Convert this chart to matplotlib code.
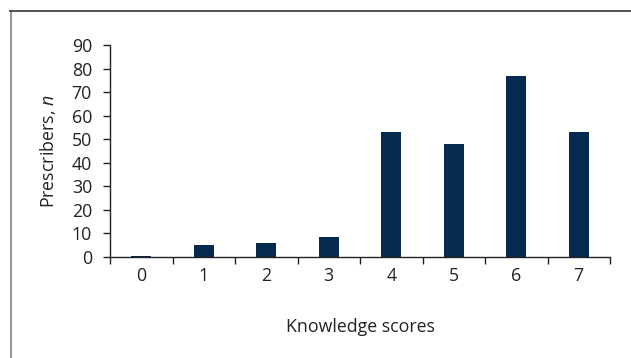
import matplotlib
matplotlib.use("Agg")
import matplotlib.pyplot as plt
from matplotlib.lines import Line2D
import numpy as np

categories = ["0", "1", "2", "3", "4", "5", "6", "7"]
prescribers = [0.4, 5, 6, 8.5, 53, 48, 77, 53]
yticks = [0, 10, 20, 30, 40, 50, 60, 70, 80, 90]

plt.rcParams['font.family'] = ['Open Sans', 'DejaVu Sans']
plt.rcParams['mathtext.fontset'] = 'custom'
plt.rcParams['mathtext.it'] = 'Open Sans:italic'
plt.rcParams['mathtext.rm'] = 'Open Sans'

FS = 12.8
W, H = 631, 358
fig = plt.figure(figsize=(W / 100, H / 100), dpi=100)
ax = fig.add_axes([110 / W, 1 - 257 / H, 500 / W, 212 / H])

x = np.arange(len(categories))
ax.bar(x, prescribers, width=0.32, color='#052a4e', zorder=2)

ax.set_xlim(-0.5, len(categories) - 0.5)
ax.set_ylim(0, 90)
ax.set_yticks(yticks)
ax.set_xticks(x)
ax.set_xticklabels(categories)
ax.set_xticks(np.arange(len(categories) + 1) - 0.5, minor=True)

for s in ['top', 'right']:
    ax.spines[s].set_visible(False)
for s in ['left', 'bottom']:
    ax.spines[s].set_color('#222222')
    ax.spines[s].set_linewidth(1.0)

ax.tick_params(axis='y', direction='out', length=5, width=1.0, color='#222222',
               labelsize=FS, labelcolor='#222222', pad=8)
ax.tick_params(axis='x', which='major', length=0, labelsize=FS,
               labelcolor='#222222', pad=7)
ax.tick_params(axis='x', which='minor', direction='out', length=5, width=1.0,
               color='#222222')

ax.set_xlabel("Knowledge scores", fontsize=FS, color='#222222', labelpad=24)
ax.set_ylabel("Prescribers, $n$", fontsize=FS, color='#222222', labelpad=10)

# figure frame
fig.add_artist(Line2D([10.5 / W, 10.5 / W], [0, 1 - 10.5 / H], transform=fig.transFigure,
                      color='#8a8a8a', lw=1.3))
fig.add_artist(Line2D([10 / W, 1], [1 - 10.5 / H, 1 - 10.5 / H], transform=fig.transFigure,
                      color='#444444', lw=1.3))

fig.savefig("out.png", dpi=100)
